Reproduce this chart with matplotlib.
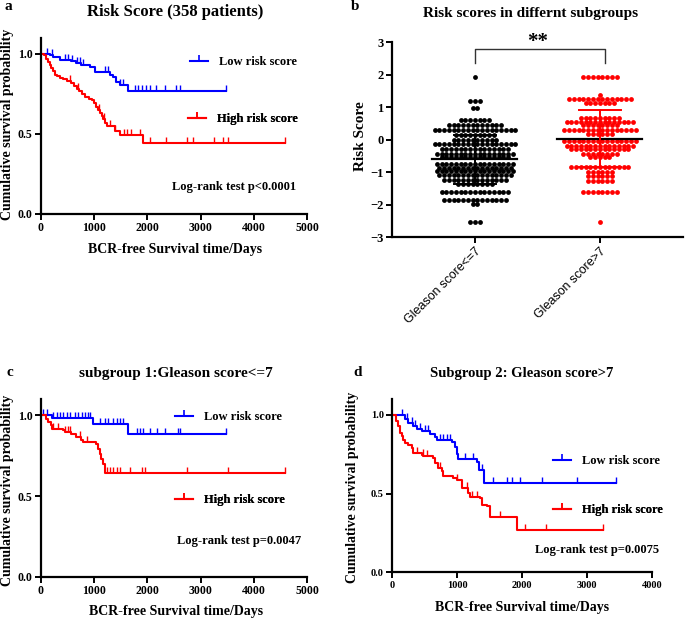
import numpy as np
import matplotlib
matplotlib.use("Agg")
import matplotlib.pyplot as plt
from matplotlib.lines import Line2D
from matplotlib.font_manager import FontProperties

W, H = 685, 618

# ---- panel a : all patients
a_low_t = [160, 225, 350, 570, 665, 760, 915, 1010, 1290, 1355, 1415, 1480, 1635]
a_low_s = [0.99, 0.977, 0.963, 0.952, 0.942, 0.929, 0.915, 0.888, 0.867, 0.852, 0.821, 0.804, 0.77]
a_low_c = [107, 200, 451, 514, 577, 671, 733, 796, 1204, 1267, 1486, 1549, 1761, 1824, 1899,
           1980, 2043, 2168, 2325, 2538, 2613, 3480]
a_high_t = [60, 100, 130, 160, 190, 230, 270, 310, 360, 420, 480, 560, 620, 680, 720, 770, 830,
            900, 960, 1000, 1040, 1080, 1110, 1140, 1170, 1200, 1240, 1390, 1480, 1920]
a_high_s = [0.99, 0.97, 0.95, 0.93, 0.91, 0.89, 0.87, 0.86, 0.85, 0.84, 0.83, 0.82, 0.80, 0.78,
            0.77, 0.75, 0.73, 0.72, 0.71, 0.69, 0.67, 0.65, 0.63, 0.61, 0.59, 0.57, 0.55, 0.52,
            0.49, 0.44]
a_high_c = [540, 700, 1090, 1180, 1290, 1400, 1560, 1620, 1700, 1860, 2043, 2356, 2750, 2852,
            3252, 3428, 3522, 4590]

# ---- panel b : risk score by Gleason group
gs_low_levels = [1.93, 1.2, 0.96, 0.6, 0.44, 0.29, 0.13, 0.0, -0.14, -0.3, -0.43, -0.55, -0.74,
                 -0.86, -0.98, -1.1, -1.23, -1.36, -1.62, -1.85, -1.97, -2.54]
gs_low_counts = [1, 3, 2, 7, 12, 18, 9, 10, 18, 15, 17, 15, 17, 16, 17, 16, 14, 8, 15, 14, 2, 3]
gs_high_levels = [1.93, 1.37, 1.24, 1.13, 0.68, 0.54, 0.44, 0.29, 0.18, -0.04, -0.19, -0.3,
                  -0.45, -0.53, -0.85, -1.0, -1.13, -1.27, -1.62, -2.54]
gs_high_counts = [8, 1, 14, 7, 9, 15, 8, 16, 6, 16, 15, 13, 8, 5, 13, 6, 6, 6, 8, 1]
group_names = ["Gleason score<=7", "Gleason score>7"]

# ---- panel c : Gleason <= 7
c_low_t = [200, 985, 1640]
c_low_s = [0.985, 0.944, 0.882]
c_low_c = [44, 107, 232, 295, 357, 420, 483, 545, 640, 702, 765, 828, 890, 922, 1110, 1204,
           1267, 1361, 1423, 1486, 1549, 1800, 1862, 1925, 2050, 2176, 2332, 2583, 2615, 3480]
c_high_t = [100, 132, 182, 207, 414, 445, 570, 664, 758, 790, 1040, 1072, 1103, 1134, 1166, 1197]
c_high_s = [0.979, 0.959, 0.938, 0.913, 0.907, 0.896, 0.882, 0.865, 0.849, 0.838, 0.824, 0.793,
            0.761, 0.73, 0.70, 0.645]
c_high_c = [232, 326, 451, 514, 545, 733, 859, 1235, 1298, 1361, 1423, 1486, 1674, 1893, 1956,
            2740, 3524, 4590]

# ---- panel d : Gleason > 7
d_low_t = [200, 248, 325, 376, 453, 581, 658, 684, 915, 967, 992, 1018, 1310, 1340, 1420]
d_low_s = [0.975, 0.945, 0.93, 0.91, 0.895, 0.878, 0.857, 0.84, 0.825, 0.795, 0.752, 0.72,
           0.70, 0.65, 0.566]
d_low_c = [144, 221, 298, 350, 427, 504, 555, 735, 787, 838, 889, 1121, 1249, 1378, 1558, 1763,
           1841, 1969, 2303, 2853, 3450]
d_high_t = [57, 93, 119, 144, 170, 196, 247, 299, 324, 453, 479, 633, 658, 710, 761, 787, 941,
            992, 1070, 1172, 1198, 1352, 1378, 1455, 1506, 1918]
d_high_s = [0.958, 0.926, 0.884, 0.863, 0.842, 0.821, 0.81, 0.789, 0.757, 0.747, 0.736, 0.725,
            0.693, 0.662, 0.64, 0.609, 0.598, 0.587, 0.534, 0.503, 0.481, 0.471, 0.428, 0.418,
            0.354, 0.27]
d_high_c = [375, 478, 530, 735, 992, 1146, 1224, 1301, 1661, 2046, 2365, 3254]

SERIF = "Liberation Serif"
BLUE = "#0000FF"
RED = "#FF0000"


def fp(size, weight="bold", family=SERIF):
    return FontProperties(family=family, weight=weight, size=size)


def fx(x):
    return x / W


def fy(y):
    return 1 - y / H


def axes_px(left, top, right, bottom):
    return fig.add_axes([fx(left), fy(bottom), (right - left) / W, (bottom - top) / H])


def style_axes(ax, tick_size):
    for sp in ["top", "right"]:
        ax.spines[sp].set_visible(False)
    for sp in ["left", "bottom"]:
        ax.spines[sp].set_linewidth(1.6)
    ax.tick_params(direction="out", length=4, width=1.4, pad=2)
    for lab in ax.get_xticklabels() + ax.get_yticklabels():
        lab.set_fontproperties(fp(tick_size))


def km(ax, t, s, cens, color):
    end = max(cens)
    tt = np.concatenate([[0], t, [end]])
    ss = np.concatenate([[1.0], s, [s[-1]]])
    ax.step(tt, ss, where="post", color=color, lw=1.5, clip_on=False)
    cens = np.asarray(cens)
    idx = np.searchsorted(tt, cens, side="right") - 1
    ax.plot(cens, ss[idx], ls="none", marker=2, color=color, ms=4, mew=1, clip_on=False)


def legend_entry(ax, color, label, x, y, size):
    h = Line2D([], [], color=color, lw=1.5, marker=2, ms=4, mew=1.2)
    leg = ax.legend([h], [label], loc="center left", bbox_to_anchor=(fx(x), fy(y)),
                    bbox_transform=fig.transFigure, frameon=False, handlelength=1.45,
                    handletextpad=0.9, borderpad=0, borderaxespad=0, numpoints=1,
                    prop=fp(size))
    ax.add_artist(leg)


def km_panel(box, xmax, low, high, letter, title, pos, tick_size):
    ax = axes_px(*box)
    km(ax, *low, BLUE)
    km(ax, *high, RED)
    ax.set_xlim(0, xmax)
    ax.set_ylim(0, 1.1)
    ax.set_xticks(np.arange(0, xmax + 1, 1000))
    ax.set_yticks([0, 0.5, 1.0])
    ax.set_yticklabels(["0.0", "0.5", "1.0"])
    style_axes(ax, tick_size)
    fig.text(fx(pos["letter"][0]), fy(pos["letter"][1]), letter, fontproperties=fp(11),
             ha="center", va="center")
    fig.text(fx(pos["title"][0]), fy(pos["title"][1]), title, fontproperties=fp(pos["tsize"]),
             ha="center", va="center")
    fig.text(fx(pos["ylab"][0]), fy(pos["ylab"][1]), "Cumulative survival probability",
             fontproperties=fp(10), rotation=90, ha="center", va="center")
    fig.text(fx(pos["xlab"][0]), fy(pos["xlab"][1]), "BCR-free Survival time/Days",
             fontproperties=fp(10), ha="center", va="center")
    legend_entry(ax, BLUE, "Low risk score", *pos["low"], 9)
    legend_entry(ax, RED, "High risk score", *pos["high"], 9)
    fig.text(fx(pos["p"][0]), fy(pos["p"][1]), pos["ptext"], fontproperties=fp(9),
             ha="left", va="center")
    return ax


fig = plt.figure(figsize=(W / 100, H / 100), dpi=100)

# panel a
km_panel((41, 37.7, 307, 214), 5000, (a_low_t, a_low_s, a_low_c), (a_high_t, a_high_s, a_high_c),
         "a", "Risk Score (358 patients)",
         {"letter": (8, 7), "title": (175, 12), "tsize": 12, "ylab": (8, 124),
          "xlab": (175, 249), "low": (190, 62), "high": (188, 119), "p": (172, 187),
          "ptext": "Log-rank test p<0.0001"}, 8.5)

# panel c
km_panel((41, 399.3, 307, 576.7), 5000, (c_low_t, c_low_s, c_low_c),
         (c_high_t, c_high_s, c_high_c),
         "c", "subgroup 1:Gleason score<=7",
         {"letter": (10, 372), "title": (176, 373), "tsize": 11, "ylab": (8, 490),
          "xlab": (176, 611), "low": (175, 417), "high": (175, 500), "p": (177, 541),
          "ptext": "Log-rank test p=0.0047"}, 8.5)

# panel d
km_panel((392.3, 399, 651.7, 572.3), 4000, (d_low_t, d_low_s, d_low_c),
         (d_high_t, d_high_s, d_high_c),
         "d", "Subgroup 2: Gleason score>7",
         {"letter": (358, 373), "title": (522, 373), "tsize": 10.5, "ylab": (353, 487),
          "xlab": (522, 607), "low": (553, 461), "high": (553, 510), "p": (535, 550),
          "ptext": "Log-rank test p=0.0075"}, 7.5)

# panel b
axb = axes_px(391.7, 42.3, 683, 237)
dx = 0.038
for gi, (levels, counts, col) in enumerate([(gs_low_levels, gs_low_counts, "black"),
                                            (gs_high_levels, gs_high_counts, RED)]):
    xs, ys = [], []
    for ri, (v, n) in enumerate(zip(levels, counts)):
        off = (np.arange(n) - (n - 1) / 2) * dx
        xs.extend(gi + off)
        ys.extend([v] * n)
    axb.scatter(xs, ys, s=12, color=col, linewidths=0, zorder=2)
    vals = np.repeat(levels, counts)
    m, sd = vals.mean(), vals.std(ddof=1)
    axb.plot([gi - 0.34, gi + 0.34], [m, m], color="black", lw=1.6, zorder=3)
    axb.plot([gi, gi], [m - sd, m + sd], color=col, lw=1.4, zorder=3)
    for yy in (m - sd, m + sd):
        axb.plot([gi - 0.17, gi + 0.17], [yy, yy], color=col, lw=1.4, zorder=3)

axb.set_xlim(-0.666, 1.664)
axb.set_ylim(-3, 3)
axb.set_yticks(np.arange(-3, 4))
axb.set_xticks([0, 1])
axb.set_xticklabels(group_names)
style_axes(axb, 9)
for lab in axb.get_xticklabels():
    lab.set_fontproperties(fp(9, weight="normal", family="Liberation Sans"))
    lab.set_rotation(45)
    lab.set_ha("right")
    lab.set_rotation_mode("anchor")
axb.plot([0, 0, 1.04, 1.04], [2.35, 2.78, 2.78, 2.35], color="#333333", lw=1, clip_on=False)
axb.text(0.5, 3.0, "**", fontproperties=fp(15), ha="center", va="center")
fig.text(fx(355), fy(7), "b", fontproperties=fp(11), ha="center", va="center")
fig.text(fx(531), fy(13), "Risk scores in differnt subgroups", fontproperties=fp(11),
         ha="center", va="center")
fig.text(fx(360), fy(136), "Risk Score", fontproperties=fp(11), rotation=90,
         ha="center", va="center")

fig.savefig("out.png", dpi=100)
